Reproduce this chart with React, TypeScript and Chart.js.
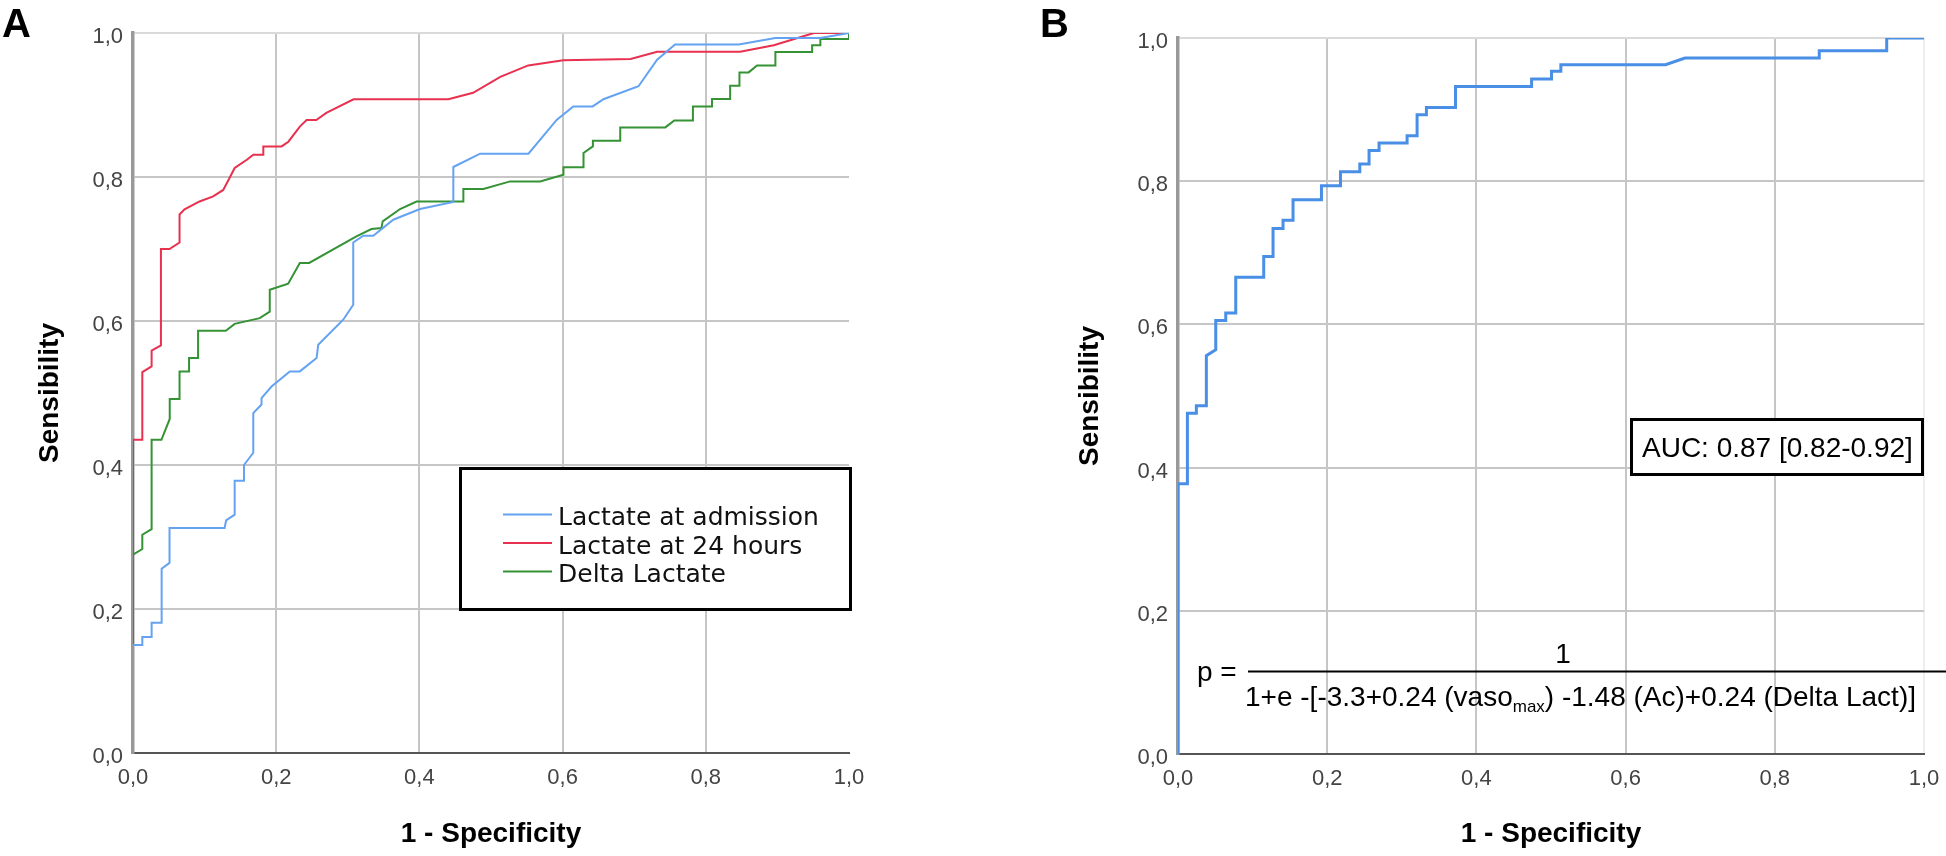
import React, { useEffect, useRef } from 'react';
import { Chart, registerables } from 'chart.js';

Chart.register(...registerables);

// ---------- data ----------
const tickValues = [0, 0.2, 0.4, 0.6, 0.8, 1.0];
const tickLabels = ['0,0', '0,2', '0,4', '0,6', '0,8', '1,0'];

const seriesNamesA = ['Lactate at admission', 'Lactate at 24 hours', 'Delta Lactate'];

// Panel A – Lactate at admission (1 - specificity, sensitivity)
const admissionFpr = [0, 0, 0.013, 0.013, 0.026, 0.026, 0.040, 0.040, 0.051, 0.051, 0.128, 0.130, 0.142, 0.142, 0.155, 0.155, 0.168, 0.168, 0.1795, 0.1795, 0.1935, 0.219, 0.233, 0.2564, 0.2587, 0.2936, 0.3076, 0.3076, 0.3216, 0.3356, 0.3635, 0.4009, 0.4474, 0.4474, 0.4848, 0.5523, 0.592, 0.615, 0.642, 0.657, 0.706, 0.732, 0.757, 0.846, 0.897, 0.960, 1.0];
const admissionTpr = [0, 0.150, 0.150, 0.161, 0.161, 0.181, 0.181, 0.256, 0.264, 0.3125, 0.3125, 0.323, 0.331, 0.378, 0.378, 0.400, 0.417, 0.472, 0.484, 0.493, 0.509, 0.530, 0.530, 0.5486, 0.567, 0.6018, 0.6226, 0.709, 0.7185, 0.7185, 0.7407, 0.7555, 0.7652, 0.8139, 0.8324, 0.8324, 0.8796, 0.898, 0.898, 0.908, 0.926, 0.963, 0.984, 0.984, 0.993, 0.993, 1.0];

// Panel A – Lactate at 24 hours
const h24Fpr = [0, 0, 0.013, 0.013, 0.026, 0.026, 0.039, 0.039, 0.051, 0.065, 0.065, 0.072, 0.093, 0.112, 0.126, 0.135, 0.142, 0.159, 0.168, 0.182, 0.182, 0.2075, 0.217, 0.233, 0.2425, 0.256, 0.270, 0.308, 0.4405, 0.475, 0.513, 0.552, 0.601, 0.695, 0.732, 0.848, 0.895, 0.951, 1.0];
const h24Tpr = [0, 0.435, 0.435, 0.529, 0.537, 0.559, 0.566, 0.700, 0.700, 0.709, 0.748, 0.755, 0.766, 0.773, 0.782, 0.799, 0.8125, 0.824, 0.831, 0.831, 0.8425, 0.8425, 0.849, 0.870, 0.879, 0.879, 0.889, 0.908, 0.908, 0.917, 0.939, 0.955, 0.962, 0.964, 0.974, 0.974, 0.983, 1.0, 1.0];

// Panel A – Delta Lactate
const deltaFpr = [0, 0, 0.013, 0.013, 0.026, 0.026, 0.0397, 0.0513, 0.0513, 0.065, 0.065, 0.0783, 0.0783, 0.0909, 0.0909, 0.1296, 0.142, 0.177, 0.191, 0.191, 0.2167, 0.233, 0.246, 0.312, 0.333, 0.347, 0.3487, 0.373, 0.396, 0.4614, 0.4614, 0.4894, 0.5267, 0.5686, 0.6012, 0.6012, 0.6292, 0.6292, 0.6423, 0.6423, 0.6805, 0.6805, 0.7434, 0.756, 0.782, 0.782, 0.8087, 0.8087, 0.834, 0.834, 0.847, 0.847, 0.8598, 0.8716, 0.8972, 0.8972, 0.9485, 0.9485, 0.96, 0.96, 1.0, 1.0];
const deltaTpr = [0, 0.2754, 0.2833, 0.3032, 0.311, 0.435, 0.435, 0.4639, 0.4917, 0.4917, 0.530, 0.530, 0.5486, 0.5486, 0.5865, 0.5865, 0.596, 0.604, 0.613, 0.6435, 0.6518, 0.6806, 0.6806, 0.7175, 0.7278, 0.729, 0.7384, 0.7555, 0.766, 0.766, 0.7833, 0.7833, 0.7939, 0.7939, 0.8032, 0.8134, 0.8134, 0.8333, 0.8425, 0.8504, 0.8504, 0.8689, 0.8689, 0.8786, 0.8786, 0.898, 0.898, 0.9083, 0.9083, 0.9268, 0.9268, 0.9453, 0.9453, 0.955, 0.955, 0.9735, 0.9735, 0.983, 0.983, 0.9917, 0.9917, 1.0];

// Panel B – logistic model
const modelFpr = [0, 0, 0.0126, 0.0126, 0.0246, 0.0246, 0.038, 0.038, 0.0506, 0.0506, 0.064, 0.064, 0.0774, 0.0774, 0.1149, 0.1149, 0.1274, 0.1274, 0.1408, 0.1408, 0.1542, 0.1542, 0.1923, 0.1923, 0.2178, 0.2178, 0.2437, 0.2437, 0.2561, 0.2561, 0.2695, 0.2695, 0.3071, 0.3071, 0.3205, 0.3205, 0.333, 0.333, 0.372, 0.372, 0.474, 0.474, 0.5007, 0.5007, 0.5132, 0.5132, 0.6536, 0.6795, 0.8596, 0.8596, 0.95, 0.95, 1.0];
const modelTpr = [0, 0.3775, 0.3775, 0.476, 0.476, 0.4864, 0.4864, 0.5563, 0.5647, 0.6056, 0.6056, 0.6159, 0.6159, 0.6657, 0.6657, 0.695, 0.695, 0.734, 0.734, 0.7453, 0.7453, 0.7742, 0.7742, 0.7937, 0.7937, 0.8133, 0.8133, 0.824, 0.824, 0.843, 0.843, 0.8533, 0.8533, 0.8635, 0.8635, 0.8929, 0.8929, 0.903, 0.903, 0.9324, 0.9324, 0.9427, 0.9427, 0.9534, 0.9534, 0.9627, 0.9627, 0.972, 0.972, 0.9822, 0.9822, 1.0, 1.0];

const aucText = 'AUC: 0.87 [0.82-0.92]';
const formulaLeft = 'p =';
const formulaNumerator = '1';
const formulaDenA = '1+e -[-3.3+0.24 (vaso';
const formulaSub = 'max';
const formulaDenB = ') -1.48 (Ac)+0.24 (Delta Lact)]';

// ---------- helpers ----------
const ARIAL = '"Liberation Sans", Arial, sans-serif';
const DEJAVU = '"DejaVu Sans", Verdana, sans-serif';
const COLORS_A = ['#64a2f2', '#e8304f', '#359235'];
const COLOR_B = '#4a8fe6';

const toPoints = (xs: number[], ys: number[]) => xs.map((x, i) => ({ x, y: ys[i] }));

function makeScales(opts: { yWidth: number; xHeight: number; yTitlePad: number; lastXGrid: string }) {
  const tickFont = { family: ARIAL, size: 22 };
  const titleFont = { family: ARIAL, size: 28, weight: 'bold' as const };
  const zeroPad = (s: any) => {
    s.paddingLeft = 0;
    s.paddingRight = 0;
    s.paddingTop = 0;
    s.paddingBottom = 0;
  };
  return {
    x: {
      type: 'linear' as const,
      min: 0,
      max: 1,
      afterBuildTicks: (s: any) => {
        s.ticks = tickValues.map((v) => ({ value: v }));
      },
      afterFit: (s: any) => {
        s.height = opts.xHeight;
        zeroPad(s);
      },
      ticks: {
        padding: 12,
        color: '#444',
        font: tickFont,
        maxRotation: 0,
        autoSkip: false,
        callback: (_v: any, i: number) => tickLabels[i],
      },
      grid: {
        drawTicks: false,
        lineWidth: 2,
        color: (c: any) => (c.tick && c.tick.value === 1 ? opts.lastXGrid : '#c6c6c6'),
      },
      border: { color: '#555', width: 2 },
      title: {
        display: true,
        text: '1 - Specificity',
        color: '#000',
        font: titleFont,
        padding: { top: 0, bottom: 5 },
      },
    },
    y: {
      type: 'linear' as const,
      min: 0,
      max: 1,
      afterBuildTicks: (s: any) => {
        s.ticks = tickValues.map((v) => ({ value: v }));
      },
      afterFit: (s: any) => {
        s.width = opts.yWidth;
        zeroPad(s);
      },
      ticks: {
        padding: 10,
        labelOffset: 4,
        color: '#444',
        font: tickFont,
        autoSkip: false,
        callback: (_v: any, i: number) => tickLabels[i],
      },
      grid: {
        drawTicks: false,
        lineWidth: 2,
        color: (c: any) => (c.tick && c.tick.value === 1 ? '#dadada' : '#c6c6c6'),
      },
      border: { color: '#999', width: 3.5 },
      title: {
        display: true,
        text: 'Sensibility',
        color: '#000',
        font: titleFont,
        padding: { top: opts.yTitlePad, bottom: 0 },
      },
    },
  };
}

const panelAOverlay = {
  id: 'panelAOverlay',
  afterDraw(chart: any) {
    const ctx = chart.ctx as CanvasRenderingContext2D;
    ctx.save();
    // panel letter
    ctx.fillStyle = '#000';
    ctx.font = `bold 40px ${ARIAL}`;
    ctx.textAlign = 'left';
    ctx.textBaseline = 'alphabetic';
    ctx.fillText('A', 2, 37);
    // legend box
    const bx = 459, by = 467, bw = 393, bh = 144;
    ctx.fillStyle = '#fff';
    ctx.fillRect(bx, by, bw, bh);
    ctx.strokeStyle = '#000';
    ctx.lineWidth = 3;
    ctx.strokeRect(bx + 1.5, by + 1.5, bw - 3, bh - 3);
    ctx.font = `25px ${DEJAVU}`;
    seriesNamesA.forEach((name, i) => {
      const ly = 514.5 + i * 28.5;
      ctx.strokeStyle = COLORS_A[i];
      ctx.lineWidth = 2;
      ctx.beginPath();
      ctx.moveTo(503, ly);
      ctx.lineTo(552, ly);
      ctx.stroke();
      ctx.fillStyle = '#111';
      ctx.fillText(name, 558, ly + 10.5);
    });
    ctx.restore();
  },
};

const panelBOverlay = {
  id: 'panelBOverlay',
  afterDraw(chart: any) {
    const ctx = chart.ctx as CanvasRenderingContext2D;
    ctx.save();
    ctx.fillStyle = '#000';
    ctx.textBaseline = 'alphabetic';
    ctx.textAlign = 'left';
    ctx.font = `bold 40px ${ARIAL}`;
    ctx.fillText('B', 67, 37);
    // AUC box
    const bx = 657, by = 418, bw = 294, bh = 58;
    ctx.fillStyle = '#fff';
    ctx.fillRect(bx, by, bw, bh);
    ctx.strokeStyle = '#000';
    ctx.lineWidth = 3;
    ctx.strokeRect(bx + 1.5, by + 1.5, bw - 3, bh - 3);
    ctx.fillStyle = '#000';
    ctx.font = `28px ${ARIAL}`;
    ctx.fillText(aucText, 669, 457);
    // formula
    ctx.fillText(formulaLeft, 224, 681);
    ctx.fillRect(275, 670.5, 698, 2);
    ctx.textAlign = 'center';
    ctx.fillText(formulaNumerator, 590, 663);
    ctx.textAlign = 'left';
    let x = 272;
    ctx.fillText(formulaDenA, x, 706);
    x += ctx.measureText(formulaDenA).width;
    ctx.font = `17px ${ARIAL}`;
    ctx.fillText(formulaSub, x, 712);
    x += ctx.measureText(formulaSub).width;
    ctx.font = `28px ${ARIAL}`;
    ctx.fillText(formulaDenB, x, 706);
    ctx.restore();
  },
};

export default function App() {
  const refA = useRef<HTMLCanvasElement>(null);
  const refB = useRef<HTMLCanvasElement>(null);

  useEffect(() => {
    const seriesA = [
      toPoints(admissionFpr, admissionTpr),
      toPoints(h24Fpr, h24Tpr),
      toPoints(deltaFpr, deltaTpr),
    ];
    const chartA = new Chart(refA.current as HTMLCanvasElement, {
      type: 'line',
      data: {
        datasets: seriesNamesA.map((name, i) => ({
          label: name,
          data: seriesA[i],
          borderColor: COLORS_A[i],
          backgroundColor: COLORS_A[i],
          borderWidth: 2,
          pointRadius: 0,
          tension: 0,
          fill: false,
        })),
      },
      options: {
        responsive: false,
        animation: false,
        events: [],
        layout: { padding: { left: 0, top: 33, right: 124, bottom: 0 } },
        plugins: { legend: { display: false }, tooltip: { enabled: false }, title: { display: false } },
        scales: makeScales({ yWidth: 133, xHeight: 103, yTitlePad: 33, lastXGrid: 'rgba(0,0,0,0)' }) as any,
      },
      plugins: [panelAOverlay],
    });

    const chartB = new Chart(refB.current as HTMLCanvasElement, {
      type: 'line',
      data: {
        datasets: [
          {
            label: 'Model',
            data: toPoints(modelFpr, modelTpr),
            borderColor: COLOR_B,
            backgroundColor: COLOR_B,
            borderWidth: 3,
            pointRadius: 0,
            tension: 0,
            fill: false,
          },
        ],
      },
      options: {
        responsive: false,
        animation: false,
        events: [],
        layout: { padding: { left: 0, top: 38, right: 22, bottom: 0 } },
        plugins: { legend: { display: false }, tooltip: { enabled: false }, title: { display: false } },
        scales: makeScales({ yWidth: 205, xHeight: 102, yTitlePad: 100, lastXGrid: '#eeeeee' }) as any,
      },
      plugins: [panelBOverlay],
    });

    return () => {
      chartA.destroy();
      chartB.destroy();
    };
  }, []);

  return (
    <div style={{ position: 'fixed', left: 0, top: 0, width: 1946, height: 856, background: '#fff' }}>
      <canvas
        ref={refA}
        width={973}
        height={856}
        style={{ position: 'absolute', left: 0, top: 0, width: 973, height: 856, display: 'block' }}
      />
      <canvas
        ref={refB}
        width={973}
        height={856}
        style={{ position: 'absolute', left: 973, top: 0, width: 973, height: 856, display: 'block' }}
      />
    </div>
  );
}
